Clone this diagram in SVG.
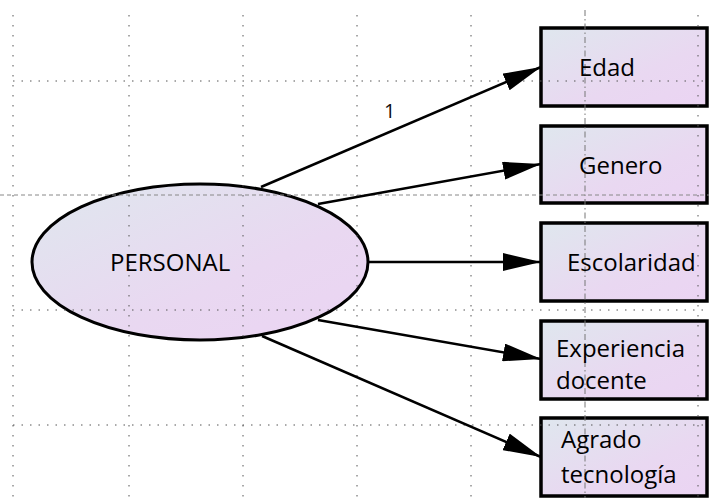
<svg xmlns="http://www.w3.org/2000/svg" width="709" height="498" viewBox="0 0 709 498">
  <defs>
    <linearGradient id="fillGrad" x1="0" y1="0" x2="1" y2="1">
      <stop offset="0" stop-color="#dfe7ee"/>
      <stop offset="0.6" stop-color="#e9d8f1"/>
      <stop offset="1" stop-color="#ebd4f3"/>
    </linearGradient>
    <marker id="arrow" viewBox="0 0 38 18" refX="38" refY="9" markerWidth="38" markerHeight="18" markerUnits="userSpaceOnUse" orient="auto">
      <path d="M0,0 L38,9 L0,18 Z" fill="#000"/>
    </marker>
  </defs>
  <style>
    .shape { fill: url(#fillGrad); stroke: #000; }
    .box { stroke-width: 3.5; }
    .oval { stroke-width: 3; }
    .label { font-family: "Open Sans", "Noto Sans", sans-serif; font-size: 24px; fill: #000; }
    .coef { font-family: "Open Sans", "Noto Sans", sans-serif; font-size: 20px; fill: #111; }
    .dot { stroke: #555; stroke-width: 1; fill: none; }
    .vdot { stroke-dasharray: 1.5 8.5; }
    .hdot { stroke-dasharray: 1.5 7; }
    .hdash { stroke-dasharray: 4 3; stroke: #888; }
    .dashdot { stroke-dasharray: 6 3 1.5 3; stroke: #777; }
    .edge { stroke: #000; stroke-width: 2.5; fill: none; marker-end: url(#arrow); }
  </style>

  <rect width="709" height="498" fill="#fff"/>

  <!-- latent variable -->
  <g id="personal">
    <ellipse class="shape oval" cx="200" cy="262" rx="168" ry="78"/>
  </g>

  <!-- observed indicators -->
  <g id="edad">
    <rect class="shape box" x="541" y="28" width="166" height="78"/>
  </g>
  <g id="genero">
    <rect class="shape box" x="541" y="126" width="166" height="77"/>
  </g>
  <g id="escolaridad">
    <rect class="shape box" x="541" y="223" width="166" height="78"/>
  </g>
  <g id="experiencia">
    <rect class="shape box" x="541" y="321" width="166" height="78"/>
  </g>
  <g id="agrado">
    <rect class="shape box" x="541" y="418" width="166" height="78"/>
  </g>

  <!-- background grid -->
  <g id="grid">
    <line class="dot vdot" x1="13" y1="15" x2="13" y2="498"/>
    <line class="dot vdot" x1="129" y1="15" x2="129" y2="498"/>
    <line class="dot vdot" x1="243" y1="15" x2="243" y2="498"/>
    <line class="dot vdot" x1="357" y1="15" x2="357" y2="498"/>
    <line class="dot vdot" x1="471" y1="15" x2="471" y2="498"/>
    <line class="dot dashdot" x1="585" y1="10" x2="585" y2="498"/>
    <line class="dot vdot" x1="698" y1="15" x2="698" y2="498"/>
    <line class="dot hdot" x1="13" y1="81" x2="709" y2="81"/>
    <line class="dot hdash" x1="0" y1="195" x2="709" y2="195"/>
    <line class="dot hdot" x1="13" y1="310" x2="709" y2="310"/>
    <line class="dot hdot" x1="13" y1="425" x2="709" y2="425"/>
  </g>

  <!-- loadings -->
  <g id="connectors">
    <line class="edge" x1="261" y1="187" x2="541" y2="67"/>
    <line class="edge" x1="318" y1="204" x2="541" y2="164"/>
    <line class="edge" x1="369" y1="262" x2="541" y2="262"/>
    <line class="edge" x1="318" y1="320" x2="541" y2="359"/>
    <line class="edge" x1="262" y1="336" x2="541" y2="457"/>
    <text class="coef" x="384" y="118">1</text>
  </g>

  <!-- labels -->
  <g id="labels">
    <text class="label" x="110" y="271">PERSONAL</text>
    <text class="label" x="579" y="76">Edad</text>
    <text class="label" x="579" y="174">Genero</text>
    <text class="label" x="567" y="271">Escolaridad</text>
    <text class="label" x="556" y="357">Experiencia</text>
    <text class="label" x="556" y="389">docente</text>
    <text class="label" x="561" y="448">Agrado</text>
    <text class="label" x="561" y="483">tecnología</text>
  </g>
</svg>
